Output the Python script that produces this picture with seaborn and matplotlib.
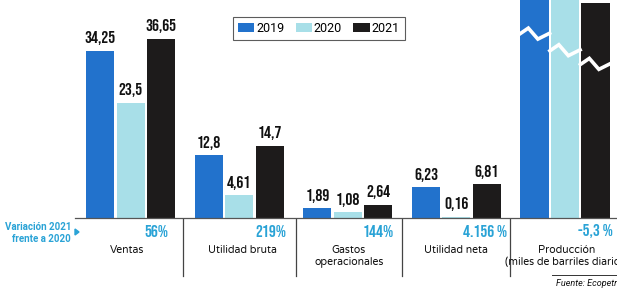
import matplotlib
matplotlib.use("Agg")
import matplotlib.pyplot as plt
from matplotlib.lines import Line2D
from matplotlib.patches import Polygon
import seaborn as sns
import pandas as pd
from matplotlib import font_manager as fm

# ---------------- data ----------------
categories = ["Ventas", "Utilidad bruta", "Gastos\noperacionales", "Utilidad neta",
              "Producción\n(miles de barriles diarios)"]
years = ["2019", "2020", "2021"]
values_2019 = [34.25, 12.8, 1.89, 6.23]
values_2020 = [23.5, 4.61, 1.08, 0.16]
values_2021 = [36.65, 14.7, 2.64, 6.81]
labels_2019 = ["34,25", "12,8", "1,89", "6,23"]
labels_2020 = ["23,5", "4,61", "1,08", "0,16"]
labels_2021 = ["36,65", "14,7", "2,64", "6,81"]
production = [725, 697, 660]          # miles de barriles diarios (eje cortado)
prod_scale = 1 / 15.0                  # escala del eje cortado
variation = ["56%", "219%", "144%", "4.156 %", "-5,3 %"]

colors = {"2019": "#2272cc", "2020": "#a8dfe8", "2021": "#1d1b1b"}
cyan = "#2aa3d6"

# ---------------- fonts ----------------
avail = {f.name for f in fm.fontManager.ttflist}

def pick(cands):
    got = [f for f in cands if f in avail]
    return (got[:1] or []) + ["DejaVu Sans"]

narrow = pick(["Bebas Neue", "Barlow Condensed"])
body = pick(["Varela Round", "Roboto"])
bold_body = pick(["Roboto"])

# ---------------- table ----------------
rows = []
for i, cat in enumerate(categories):
    for j, y in enumerate(years):
        if i < 4:
            v = [values_2019, values_2020, values_2021][j][i]
        else:
            v = production[j] * prod_scale
        rows.append({"cat": cat, "year": y, "value": v})
df = pd.DataFrame(rows)

W, H = 617, 292
fig = plt.figure(figsize=(W / 100, H / 100), dpi=100)
fig.patch.set_facecolor("white")
ax = fig.add_axes([0, 0, 1, 1])

x0, step = 130.8, 108.55   # pixel centre of first group, pixels per category
base_y, ppu = 217.7, 4.88  # baseline pixel row, pixels per unit

sns.barplot(data=df, x="cat", y="value", hue="year", hue_order=years, order=categories,
            palette=colors, width=0.843, gap=0.08, dodge=True, saturation=1,
            edgecolor="none", linewidth=0, legend=True, ax=ax, zorder=2)

ax.set_xlim(-x0 / step, (W - x0) / step)
ax.set_ylim((base_y - H) / ppu, base_y / ppu)
ax.axis("off")

# value labels
all_labels = [labels_2019, labels_2020, labels_2021]
for j, cont in enumerate(ax.containers):
    for i, bar in enumerate(cont.patches):
        if i < 4:
            ax.annotate(all_labels[j][i], (bar.get_x() + bar.get_width() / 2, bar.get_height()),
                        xytext=(0, 4), textcoords="offset points", ha="center", va="bottom",
                        fontsize=12.5, fontweight="bold", family=narrow, color="#111111")

# zig-zag break on production bars
zz_level = [37.6, 34.2, 31.4]
for j, cont in enumerate(ax.containers):
    bar = cont.patches[4]
    bx, bw = bar.get_x(), bar.get_width()
    xs = [bx - 0.01, bx + 0.28 * bw, bx + 0.62 * bw, bx + bw + 0.01]
    ys = [zz_level[j], zz_level[j] + 1.25, zz_level[j] - 1.0, zz_level[j] + 0.2]
    ax.plot(xs, ys, color="white", lw=2.6, solid_joinstyle="miter", zorder=3)

# baseline
ax.axhline(0, xmin=75 / W, xmax=1, color="#555555", lw=0.9, zorder=4)

def fx(px):
    return px / W

def fy(py):
    return 1 - py / H

# dividers
for xp in [183, 296, 402, 510]:
    fig.add_artist(Line2D([fx(xp), fx(xp)], [fy(219), fy(276)], color="#444444", lw=0.9))

# variation percentages
right_edges = [168, 286, 394, 507, 613]
for xp, t in zip(right_edges, variation):
    fig.text(fx(xp), fy(231), t, ha="right", va="center", fontsize=12.5,
             fontweight="bold", family=narrow, color=cyan)

# category labels
centres = [127, 242, 349, 456, 567]
for xp, c in zip(centres, categories):
    fig.text(fx(xp), fy(245), c, ha="center", va="top", fontsize=7.6,
             family=body, color="#111111", linespacing=1.15)

# left note
fig.text(fx(71), fy(233), "Variación 2021\nfrente a 2020", ha="right", va="center",
         fontsize=7, fontweight="bold", family=bold_body, color=cyan, linespacing=1.25)
fig.add_artist(Polygon([[fx(75), fy(229)], [fx(75), fy(235)], [fx(79), fy(232)]],
                       closed=True, color=cyan, transform=fig.transFigure))

# source
fig.add_artist(Line2D([fx(552), fx(617)], [fy(275), fy(275)], color="#333333", lw=0.7))
fig.text(fx(556), fy(284), "Fuente: Ecopetrol", ha="left", va="center", fontsize=6.5,
         style="italic", family=bold_body, color="#111111")

# legend
leg = ax.legend(loc="upper left", bbox_to_anchor=(fx(233), fy(17)), bbox_transform=fig.transFigure,
                ncol=3, frameon=True, fancybox=False, handlelength=1.3,
                handleheight=0.65, handletextpad=0.15, columnspacing=0.9, borderpad=0.4,
                borderaxespad=0, prop={"family": bold_body, "size": 9})
leg.get_frame().set_edgecolor("#333333")
leg.get_frame().set_linewidth(0.8)
leg.set_title(None)

fig.savefig("out.png", dpi=100, facecolor="white")
